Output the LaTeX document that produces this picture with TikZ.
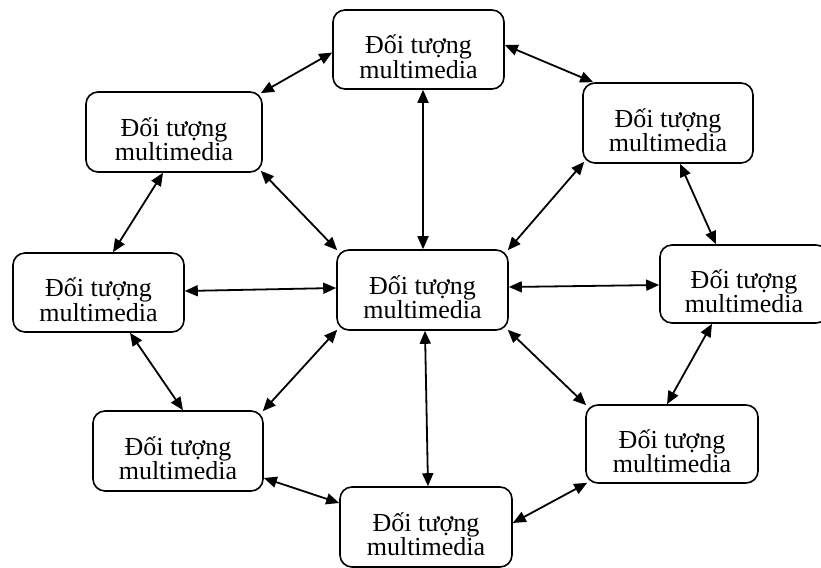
\documentclass[tikz,border=0pt]{standalone}
\usepackage{fontspec}
\setmainfont{Liberation Serif}
\usetikzlibrary{arrows.meta,calc}
\begin{document}
\begin{tikzpicture}[x=1pt,y=-1pt,
  obj/.style={draw, line width=1.6pt, rounded corners=12pt, align=center,
    inner sep=0pt, font=\fontsize{26}{23}\selectfont},
  link/.style={line width=1.8pt,
    {Triangle[length=13pt,width=11pt]}-{Triangle[length=13pt,width=11pt]}}]
\useasboundingbox (0,0) rectangle (821,567);
\clip (0,0) rectangle (821,567);
\newcommand\objtext{\rule{0pt}{33pt}Đối tượng\\multimedia}

% objects
\node[obj, minimum width=171pt, minimum height=79pt] (T)  at (418.5,49.5) {\objtext};
\node[obj, minimum width=176pt, minimum height=80pt] (TL) at (174,132)    {\objtext};
\node[obj, minimum width=170pt, minimum height=80pt] (TR) at (668,123)    {\objtext};
\node[obj, minimum width=171pt, minimum height=79pt] (L)  at (98.5,292.5) {\objtext};
\node[obj, minimum width=171pt, minimum height=80pt] (C)  at (422.5,290)  {\objtext};
\node[obj, minimum width=168pt, minimum height=78pt] (R)  at (744,284)    {\objtext};
\node[obj, minimum width=170pt, minimum height=80pt] (BL) at (178,451)    {\objtext};
\node[obj, minimum width=172pt, minimum height=80pt] (B)  at (426,527)    {\objtext};
\node[obj, minimum width=172pt, minimum height=78pt] (BR) at (672,444)    {\objtext};

% links between objects
\draw[link] ($(T.south)+(4.5,0)$) -- ($(C.north)+(0.5,0)$);
\draw[link] ($(C.south)+(2.5,0)$) -- ($(B.north)+(2,0)$);
\draw[link] ($(T.west)+(0,3)$) -- ($(TL.north east)+(-2,2)$);
\draw[link] ($(T.east)+(0,-4.5)$) -- ($(TR.north west)+(11,0)$);
\draw[link] ($(TL.south)+(-11,0)$) -- ($(L.north)+(14.5,0)$);
\draw[link] ($(TL.south east)+(-2,-2)$) -- ($(C.north west)+(1,1)$);
\draw[link] ($(TR.south west)+(2,-2)$) -- ($(C.north east)+(-1,1)$);
\draw[link] ($(TR.south)+(12,0)$) -- ($(R.north)+(-28,0)$);
\draw[link] ($(L.east)+(0,-1.5)$) -- ($(C.west)+(0,-2)$);
\draw[link] ($(R.west)+(0,1)$) -- ($(C.east)+(0,-3)$);
\draw[link] ($(L.south)+(31.5,0)$) -- ($(BL.north)+(5,0)$);
\draw[link] ($(C.south west)+(1,-1)$) -- ($(BL.north east)+(-1,1)$);
\draw[link] ($(C.south east)+(-1,-1)$) -- ($(BR.north west)+(1,1)$);
\draw[link] ($(R.south)+(-32,0)$) -- ($(BR.north)+(-5,0)$);
\draw[link] ($(BL.east)+(0,27)$) -- ($(B.west)+(0,-24)$);
\draw[link] ($(B.east)+(0,-4)$) -- ($(BR.south west)+(2,-1)$);
\end{tikzpicture}
\end{document}
